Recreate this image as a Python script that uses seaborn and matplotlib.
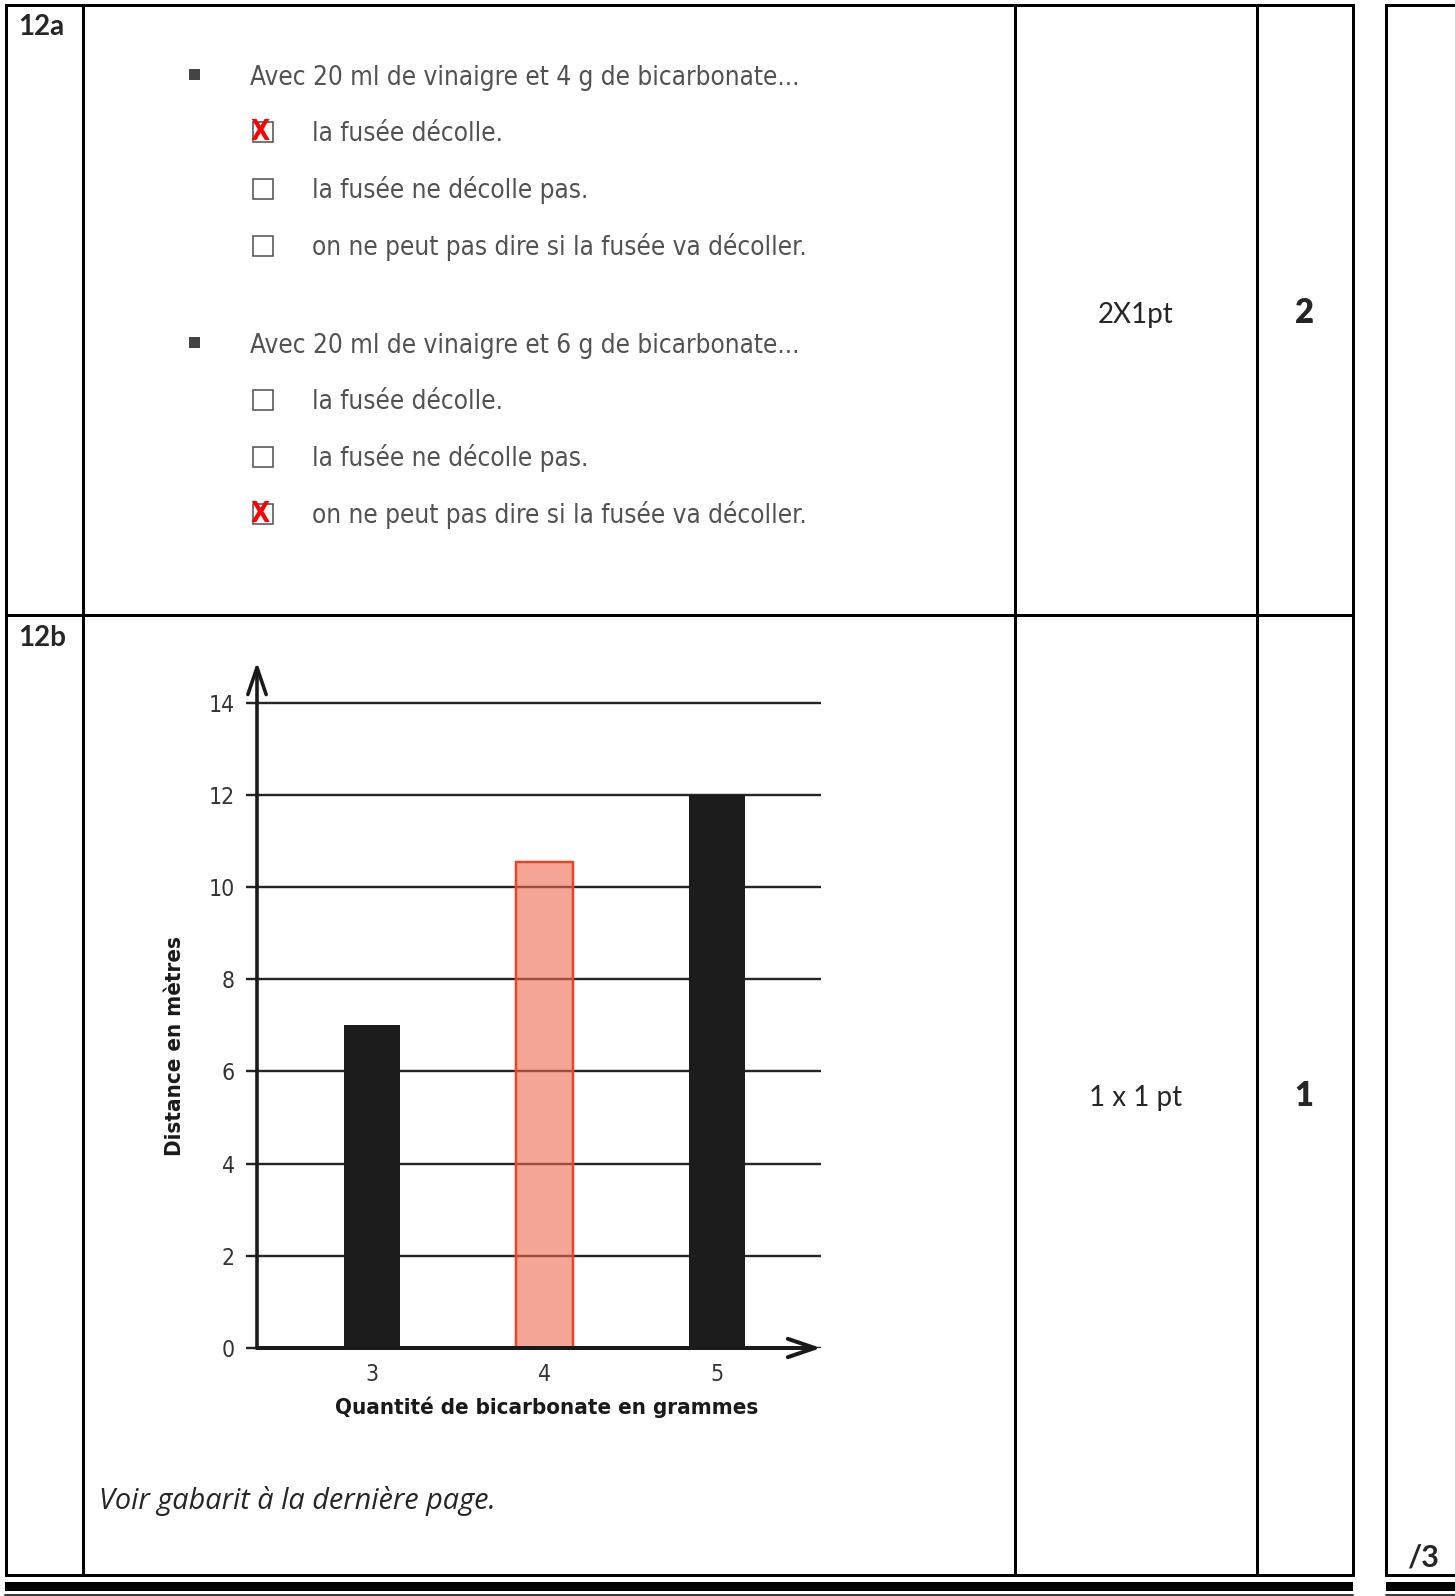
import matplotlib
matplotlib.use("Agg")
import matplotlib.pyplot as plt
import seaborn as sns
import pandas as pd
from matplotlib.patches import Rectangle

sns.set_theme(style="white")
plt.rcParams['font.family'] = ['Lato', 'DejaVu Sans']

# ---------------- data ----------------
quantities = ["3", "4", "5"]
distances = [7, 10.55, 12]
bar_colors = ["#1c1c1c", "#ed6950", "#1c1c1c"]
y_ticks = [0, 2, 4, 6, 8, 10, 12, 14]
x_label = "Quantité de bicarbonate en grammes"
y_label = "Distance en mètres"

questions = ["Avec 20 ml de vinaigre et 4 g de bicarbonate...",
             "Avec 20 ml de vinaigre et 6 g de bicarbonate..."]
options = ["la fusée décolle.", "la fusée ne décolle pas.",
           "on ne peut pas dire si la fusée va décoller."]
answers = [0, 2]
item_labels = ["12a", "12b"]
bareme = ["2X1pt", "1 x 1 pt"]
points = ["2", "1"]
total = "/3"
note = "Voir gabarit à la dernière page."

NARROW = ['Liberation Sans Narrow', 'DejaVu Sans']

W, H = 1455, 1596
fig = plt.figure(figsize=(W / 100, H / 100), dpi=100, facecolor="white")
bg = fig.add_axes([0, 0, 1, 1])
bg.set_xlim(0, W)
bg.set_ylim(H, 0)
bg.axis("off")

PX = 0.72  # px -> pt


def hline(y, x0, x1, lw=3):
    bg.plot([x0, x1], [y, y], color="black", lw=lw * PX, solid_capstyle="projecting")


def vline(x, y0, y1, lw=3):
    bg.plot([x, x], [y0, y1], color="black", lw=lw * PX, solid_capstyle="projecting")


# table frame
top, mid, bot = 5, 615, 1575
cols = [6, 82.5, 1015, 1257, 1353]
hline(top, cols[0], cols[-1])
hline(mid, cols[0], cols[-1])
hline(bot, cols[0], cols[-1])
for c in cols:
    vline(c, top, bot)
# side column
vline(1386, top, bot)
hline(top, 1386, W)
hline(bot, 1386, W)
# thick double rule at bottom
bg.add_patch(Rectangle((5, 1582), 1353 - 5, 9, color="black", lw=0))
bg.add_patch(Rectangle((1386, 1582), W - 1386, 9, color="black", lw=0))
hline(1595, 5, 1353, lw=1.5)
hline(1595, 1386, W, lw=1.5)

# left labels
for lab, yb in zip(item_labels, [35, 646]):
    bg.text(18, yb, lab, fontsize=20, fontweight="bold", va="baseline", ha="left")

# bareme / points
for txt, pt, yb in zip(bareme, points, [322.7, 1106]):
    bg.text(1136, yb, txt, fontsize=20, va="baseline", ha="center")
    bg.text(1304, yb, pt, fontsize=23.5, fontweight="heavy", va="baseline", ha="center")
bg.text(1423, 1567, total, fontsize=22, fontweight="bold", va="baseline", ha="center")

bg.text(99, 1509, note, fontsize=20.8, style="italic", va="baseline", ha="left",
        fontfamily=["Open Sans", "DejaVu Sans"])

# 12a questions
q_base = [85, 353]
gray = "#525252"
for qi, (q, qb) in enumerate(zip(questions, q_base)):
    bg.add_patch(Rectangle((188.5, qb - 16), 11, 11, color="#444444", lw=0))
    bg.text(250, qb, q, fontsize=18.7, fontfamily=NARROW, fontstretch="condensed",
            color=gray, va="baseline", ha="left")
    for oi, opt in enumerate(options):
        ob = qb + 56 + oi * 57
        bg.add_patch(Rectangle((253, ob - 19), 20, 20, fill=False,
                               edgecolor="#555555", lw=1.6 * PX))
        bg.text(312, ob, opt, fontsize=18.7, fontfamily=NARROW, fontstretch="condensed",
                color=gray, va="baseline", ha="left")
        if oi == answers[qi]:
            bg.text(260, ob - 9, "X", fontsize=20, fontweight="bold", fontfamily=NARROW,
                    fontstretch="condensed", color="#ff0000", va="center", ha="center")

# ---------------- chart ----------------
ax_l, ax_r, ax_b, ax_t = 257, 821, 1348, 662
ax = fig.add_axes([ax_l / W, (H - ax_b) / H, (ax_r - ax_l) / W, (ax_b - ax_t) / H])
df = pd.DataFrame({"q": quantities, "d": distances})
sns.barplot(data=df, x="q", y="d", hue="q", palette=bar_colors, legend=False,
            width=0.325, saturation=1, ax=ax, zorder=3)
for cont, col in zip(ax.containers, bar_colors):
    for p in cont:
        if col != "#1c1c1c":
            p.set_facecolor((237 / 255, 105 / 255, 80 / 255, 0.6))
            p.set_edgecolor("#ee4422")
            p.set_linewidth(2.5 * PX)
        else:
            p.set_linewidth(0)

ax.set_xlim(-0.667, 2.603)
ax.set_ylim(0, 14.88)
ax.set_yticks(y_ticks)
ax.set_facecolor("none")
ax.yaxis.grid(True, color="#262626", lw=2.4 * PX)
ax.xaxis.grid(False)
ax.set_axisbelow(True)
for s in ax.spines.values():
    s.set_visible(False)

ax.tick_params(axis="y", left=True, length=11 * PX, width=2.4 * PX, color="#222222",
               pad=8, labelsize=16.5, labelcolor="#333333")
ax.tick_params(axis="x", bottom=False, length=0, pad=11, labelsize=16.5, labelcolor="#333333")
for lbl in ax.get_yticklabels() + ax.get_xticklabels():
    lbl.set_fontfamily(NARROW)
    lbl.set_fontstretch("condensed")

ax.set_xlabel(x_label, fontfamily=NARROW, fontstretch="condensed", fontweight="bold",
              fontsize=16, color="#1a1a1a")
ax.set_ylabel(y_label, fontfamily=NARROW, fontstretch="condensed", fontweight="bold",
              fontsize=16, color="#1a1a1a")
ax.xaxis.label.set_va("center")
ax.yaxis.label.set_va("center")
ax.xaxis.set_label_coords(0.514, -0.086)
ax.yaxis.set_label_coords(-0.146, 0.44)

arrow = dict(arrowstyle="->,head_length=0.97,head_width=0.33", lw=4 * PX,
             color="#1a1a1a", shrinkA=0, shrinkB=0, mutation_scale=20)
ax.annotate("", xy=(1, 0), xytext=(0, 0), xycoords="axes fraction",
            arrowprops=arrow, annotation_clip=False)
ax.annotate("", xy=(0, 1), xytext=(0, 0), xycoords="axes fraction",
            arrowprops=dict(arrow, lw=3.6 * PX), annotation_clip=False)

fig.savefig("out.png", dpi=100, facecolor="white")
